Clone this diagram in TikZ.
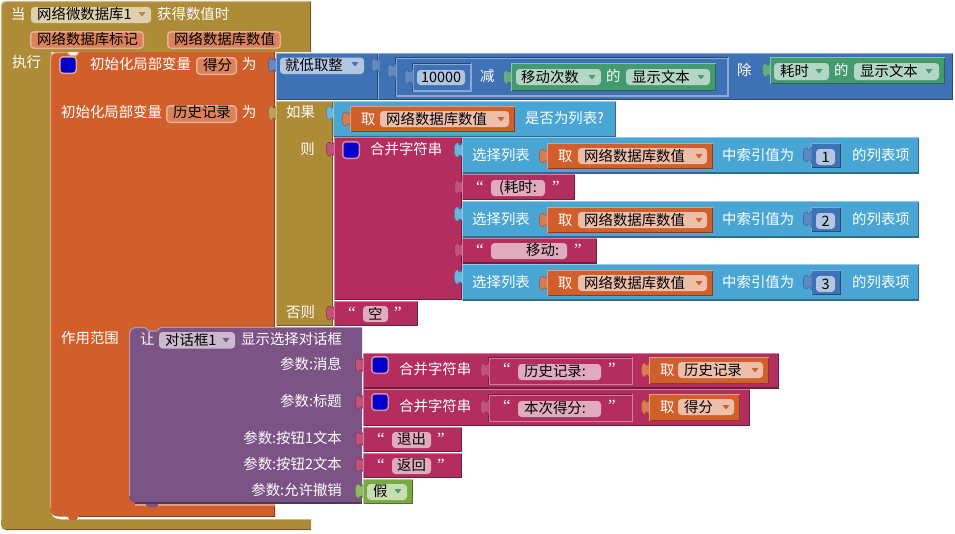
\documentclass[tikz,border=0pt]{standalone}
\usepackage{fontspec}
\setmainfont{Noto Sans CJK SC}
\newfontfamily\qfont{Liberation Serif}
\definecolor{cgold}{HTML}{AE8B36}
\definecolor{corange}{HTML}{D15F2C}
\definecolor{cblue}{HTML}{3F71B5}
\definecolor{ccyan}{HTML}{49A6D4}
\definecolor{cpink}{HTML}{B32D5E}
\definecolor{cpurple}{HTML}{7C5385}
\definecolor{cgreen}{HTML}{439970}
\definecolor{clime}{HTML}{77AB41}
\newcounter{nn}
\tikzset{
  lab/.style={inner sep=0pt,text height=12pt,text depth=2pt,font=\fontsize{14.4}{16}\selectfont,white},
  darklab/.style={lab,text=black},
  hi/.style={line width=1.2pt},
}
% block: x1 y1 x2 y2 base
\newcommand{\blk}[5]{%
  \fill[#5] (#1,#2) rectangle (#3,#4);
  \draw[hi,#5!60!white] (#1+.5,#4) -- (#1+.5,#2+.6) -- (#3,#2+.6);
  \draw[hi,#5!65!black] (#1+1,#4-.6) -- (#3-.6,#4-.6) -- (#3-.6,#2+1);
}
\newcommand{\plug}[3]{%
  \fill[#3!82!white,draw=#3!75!black,line width=.4pt] (#1+1,#2-8.5) .. controls (#1-1,#2-4) and (#1-3,#2-3.5) .. (#1-4,#2-7)
     .. controls (#1-9,#2-8.5) and (#1-9,#2+8.5) .. (#1-4,#2+7)
     .. controls (#1-3,#2+3.5) and (#1-1,#2+4) .. (#1+1,#2+8.5) -- cycle;
}
\newcommand{\chip}[5]{% x1 y1 x2 y2 fillcolor
  \fill[#5,rounded corners=3.5pt] (#1,#2) rectangle (#3,#4);
}
\newcommand{\tri}[3]{%
  \fill[#3] (#1-3.5,#2-2) -- (#1+3.5,#2-2) -- (#1,#2+2.5) -- cycle;
}
\newcommand{\tw}[3]{% left x, centre y, text white
  \stepcounter{nn}\node[lab,anchor=west] (t\thenn) at (#1,#2) {#3};
}
\newcommand{\tr}[3]{% right x
  \stepcounter{nn}\node[lab,anchor=east] (t\thenn) at (#1,#2) {#3};
}
\newcommand{\tk}[3]{% left x black
  \stepcounter{nn}\node[darklab,anchor=west] (t\thenn) at (#1,#2) {#3};
}
\newcommand{\quo}[3]{% x of open, x of close, y
  \stepcounter{nn}\node[lab,anchor=center,font=\qfont\fontsize{17}{17}\selectfont] (t\thenn) at (#1,#3+1) {“};
  \stepcounter{nn}\node[lab,anchor=center,font=\qfont\fontsize{17}{17}\selectfont] (t\thenn) at (#2,#3+1) {”};
}
\newcommand{\square}[3]{% x y base
  \fill[#3!55!white,rounded corners=4pt] (#1-1,#2-1) rectangle (#1+17,#2+17);
  \fill[blue!80!black,rounded corners=3pt] (#1+.5,#2+.5) rectangle (#1+15.5,#2+15.5);
}
% orange getter: x1 y1 x2 y2 ddx1 plugy text
\newcommand{\getter}[7]{%
  \plug{#1}{#6}{corange}
  \blk{#1}{#2}{#3}{#4}{corange}
  \tw{#1+11}{#6}{取}
  \chip{#5}{#6-8}{#3-6}{#6+8}{corange!40!white}
  \tk{#5+6}{#6}{#7}
  \tri{#3-14}{#6}{corange}
}
\begin{document}
\begin{tikzpicture}[x=1pt,y=-1pt]
\useasboundingbox (0,0) rectangle (955,533);
\fill[white] (0,0) rectangle (955,533);
% outer gold
\fill[cgold] (311,1) -- (6,1) .. controls (3,1) and (1,3) .. (1,6) -- (1,525)
  .. controls (1,528) and (3,530) .. (6,530) -- (311,530) -- (311,519) -- (60,519)
  .. controls (54,519) and (51,516) .. (51,510) -- (51,52) -- (311,52) -- cycle;
\draw[hi,cgold!60!white] (311,1.5) -- (6,1.5) .. controls (3,1.5) and (1.5,3) .. (1.5,6) -- (1.5,520);
\draw[hi,cgold!65!black] (5,529.6) -- (311,529.6);
\draw[hi,cgold!65!black] (310.6,2) -- (310.6,52);
\draw[hi,cgold!60!white] (60,519.6) -- (311,519.6);
% orange
\fill[corange] (275,52) -- (79,52) -- (76,55.5) -- (71,55.5) -- (67,52) -- (57,52)
  .. controls (53,52) and (50,55) .. (50,59) -- (50,508)
  .. controls (50,513) and (53,516.5) .. (58,516.5) -- (67,516.5) -- (70,520) -- (76,520) -- (79,516.5) -- (275,516.5) -- cycle;
\draw[hi,corange!60!white] (79,52.6) -- (76,56) -- (71,56) -- (67,52.6) -- (57,52.6)
  .. controls (53,52.6) and (50.6,55) .. (50.6,59) -- (50.6,508);
\draw[hi,corange!65!black] (275,516.2) -- (79,516.2);
\draw[hi,corange!65!black] (274.6,52) -- (274.6,516.5);
\draw[hi,white] (56,517.6) -- (68,517.6);
\draw[hi,white] (78,517.6) -- (275,517.6);
% header texts
\tw{11}{14}{当}
\chip{31}{7}{151}{23}{cgold!40!white}
\tk{37}{14}{网络微数据库1}
\tri{142}{14}{cgold}
\tw{157}{14}{获得数值时}
\fill[corange!50!white,rounded corners=4pt] (30,31) rectangle (144,49);
\fill[corange!78!white,rounded corners=3pt] (31.5,32.5) rectangle (142.5,47.5);
\tk{37}{39}{网络数据库标记}
\fill[corange!50!white,rounded corners=4pt] (167,31) rectangle (281,49);
\fill[corange!78!white,rounded corners=3pt] (168.5,32.5) rectangle (279.5,47.5);
\tk{174}{39}{网络数据库数值}
\tw{12}{62}{执行}
% orange contents
\square{60}{57}{corange}
\tw{90}{64}{初始化局部变量}
\fill[corange!50!white,rounded corners=4pt] (196,57) rectangle (237,75);
\fill[corange!78!white,rounded corners=3pt] (197.5,58.5) rectangle (235.5,73.5);
\tk{203}{65}{得分}
\tw{242}{64}{为}
\tw{61}{112}{初始化局部变量}
\fill[corange!50!white,rounded corners=4pt] (166,105) rectangle (237,123);
\fill[corange!78!white,rounded corners=3pt] (167.5,106.5) rectangle (235.5,121.5);
\tk{173}{112}{历史记录}
\tw{242}{112}{为}
\tw{61}{338}{作用范围}
% blue floor
\plug{276}{65}{cblue}
\blk{276}{52.5}{378}{100}{cblue}
\chip{280}{57.5}{364}{74}{cblue!40!white}
\tk{285}{65}{就低取整}
\tri{355}{64}{cblue}
% divide
\blk{378}{52.5}{953}{100}{cblue}
\plug{379}{65}{cblue}
\tw{737}{70}{除}
% minus
\fill[cblue!60!white] (395,57) rectangle (729,97);
\fill[cblue] (397,59) rectangle (727,95);
\draw[hi,cblue!65!black] (395.6,97) -- (395.6,57.6) -- (728.4,57.6);
\plug{395}{71}{cblue}
\tw{480}{76}{减}
\fill[cblue!60!white] (412,63) rectangle (472,92);
\fill[cblue] (414,65) rectangle (470,90);
\draw[hi,cblue!65!black] (412.6,92) -- (412.6,63.6) -- (471.4,63.6);
\plug{412}{77}{cblue}
\chip{417}{70}{465}{85}{cblue!40!white}
\tk{421}{77}{10000}
\plug{511}{77}{cgreen}
\blk{511}{63}{716}{91}{cgreen}
\chip{516}{69}{601}{85}{cgreen!40!white}
\tk{521}{77}{移动次数}
\tri{592}{77}{cgreen}
\tw{606}{76}{的}
\chip{626}{69}{710}{85}{cgreen!40!white}
\tk{632}{77}{显示文本}
\tri{701}{77}{cgreen}
\plug{770}{70}{cgreen}
\blk{770}{57}{945}{84}{cgreen}
\chip{774}{63}{829}{80}{cgreen!40!white}
\tk{780}{71}{耗时}
\tri{819}{71}{cgreen}
\tw{834}{70}{的}
\chip{854}{63}{939}{80}{cgreen!40!white}
\tk{860}{71}{显示文本}
\tri{929}{71}{cgreen}
% if block
\plug{276}{113}{cgold}
\blk{276}{101}{333}{326}{cgold}
\tw{286}{112}{如果}
\tr{315}{149}{则}
\tw{286}{312}{否则}
% is list
\plug{334}{113}{ccyan}
\blk{333}{101}{616}{137}{ccyan}
\getter{350}{106}{515}{132}{380}{119}{网络数据库数值}
\tw{525}{118}{是否为列表?}
% join big
\plug{334}{149}{cpink}
\blk{334}{137}{462}{300}{cpink}
\square{343}{142}{cpink}
\tw{370}{149}{合并字符串}
% list rows
\foreach \yy/\ii in {137/1,201/2,264/3}{
  \plug{462}{\yy+13}{ccyan}
  \blk{462}{\yy}{919}{\yy+36.5}{ccyan}
  \tw{472}{\yy+18}{选择列表}
  \getter{547}{\yy+6}{713}{\yy+32}{578}{\yy+19}{网络数据库数值}
  \tw{722}{\yy+18}{中索引值为}
  \blk{811}{\yy+6}{841}{\yy+31}{cblue}
  \plug{811}{\yy+18}{cblue}
  \chip{816}{\yy+12}{835}{\yy+28}{cblue!40!white}
  \node[darklab,anchor=center] (n\ii) at (825.5,\yy+20) {\ii};
  \tw{852}{\yy+18}{的列表项}
}
% text strips
\plug{462}{187}{cpink}
\blk{462}{174}{575}{200}{cpink}
\quo{480}{556}{186}
\chip{491}{180}{545}{196}{cpink!40!white}
\tk{499}{187}{(耗时:}
\plug{462}{250}{cpink}
\blk{462}{238}{597}{263.5}{cpink}
\quo{480}{578}{249}
\chip{491}{243}{567}{259}{cpink!40!white}
\tk{526}{250}{移动:}
% empty
\plug{334}{313}{cpink}
\blk{334}{301}{418}{326}{cpink}
\quo{352}{398}{312}
\chip{363}{306}{388}{322}{cpink!40!white}
\tk{368}{314}{空}
% purple
\fill[cpurple] (362,327) -- (160,327) -- (157,330.5) -- (149,330.5) -- (145,327) -- (136,327)
  .. controls (132,327) and (129,330) .. (129,334) -- (129,496)
  .. controls (129,500) and (132,503) .. (136,503) -- (145,503) -- (149,507) -- (156,507) -- (160,503) -- (362,503) -- cycle;
\draw[hi,corange!60!white] (135,505) -- (146,505);
\draw[hi,corange!60!white] (158,505) -- (275,505);
\draw[hi,cpurple!60!white] (160,327.6) -- (157,331) -- (149,331) -- (145,327.6) -- (136,327.6)
  .. controls (132,327.6) and (129.6,330) .. (129.6,334) -- (129.6,496);
\draw[hi,cpurple!60!white] (160,327.6) -- (362,327.6);
\draw[hi,cpurple!65!black] (135,503) -- (362,503);
\tw{140}{339}{让}
\chip{159}{332}{235}{348.5}{cpurple!40!white}
\tk{165}{340}{对话框1}
\tri{226}{340}{cpurple}
\tw{241}{339}{显示选择对话框}
\tr{342}{364}{参数:消息}
\tr{342}{401}{参数:标题}
\tr{342}{438}{参数:按钮1文本}
\tr{342}{464}{参数:按钮2文本}
\tr{342}{490}{参数:允许撤销}
% lower joins
\plug{363}{365}{cpink}
\blk{363}{353}{779}{388.5}{cpink}
\square{372}{357}{cpink}
\tw{399}{369}{合并字符串}
\fill[cpink!60!white] (488,357) rectangle (633,385);
\fill[cpink] (489.5,358.5) rectangle (631.5,383.5);
\draw[hi,cpink!65!black] (488.6,385) -- (488.6,357.6) -- (632.4,357.6);
\plug{488}{370}{cpink}
\quo{507}{612}{368}
\chip{518}{364}{601}{380}{cpink!40!white}
\tk{524}{371}{历史记录:}
\getter{649}{357}{769}{384}{678}{370}{历史记录}
\plug{363}{402}{cpink}
\blk{363}{389}{750}{426}{cpink}
\square{372}{394}{cpink}
\tw{399}{406}{合并字符串}
\fill[cpink!60!white] (488,394) rectangle (633,422);
\fill[cpink] (489.5,395.5) rectangle (631.5,420.5);
\draw[hi,cpink!65!black] (488.6,422) -- (488.6,394.6) -- (632.4,394.6);
\plug{488}{407}{cpink}
\quo{507}{612}{405}
\chip{518}{401}{601}{417}{cpink!40!white}
\tk{524}{408}{本次得分:}
\getter{649}{394}{740}{421}{678}{407}{得分}
\plug{363}{439}{cpink}
\blk{363}{427}{462}{452}{cpink}
\quo{381}{441}{438}
\chip{392}{432}{431}{448}{cpink!40!white}
\tk{397}{439}{退出}
\plug{363}{465}{cpink}
\blk{363}{453}{462}{478}{cpink}
\quo{381}{441}{464}
\chip{392}{458}{431}{474}{cpink!40!white}
\tk{397}{465}{返回}
\plug{363}{491}{clime}
\blk{363}{479}{413}{504}{clime}
\chip{367}{484}{407}{500}{clime!40!white}
\tk{373}{491}{假}
\tri{398}{491}{cgreen}
\end{tikzpicture}
\end{document}
